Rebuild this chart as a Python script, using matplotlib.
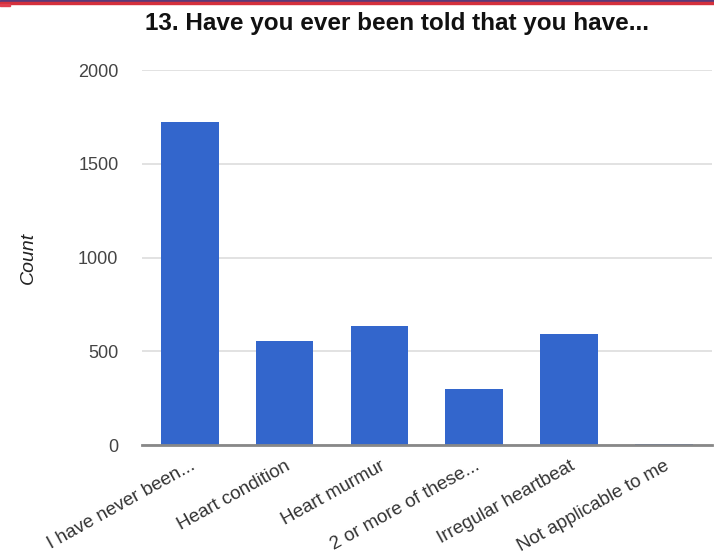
import matplotlib.pyplot as plt
from matplotlib.patches import Rectangle

categories = ["I have never been...", "Heart condition", "Heart murmur",
              "2 or more of these...", "Irregular heartbeat", "Not applicable to me"]
counts = [1723, 555, 635, 299, 592, 6]
y_ticks = [0, 500, 1000, 1500, 2000]

plt.rcParams['font.family'] = ['Liberation Sans', 'DejaVu Sans']

fig = plt.figure(figsize=(7.14, 5.58), dpi=100)
ax = fig.add_axes([0.199, 0.2025, 0.798, 0.672])

x = range(len(categories))
ax.bar(x, counts, width=0.61, color='#3366cc', zorder=3)

ax.set_xlim(-0.5, len(categories) - 0.5)
ax.set_ylim(0, 2000)
ax.set_yticks(y_ticks)
ax.set_yticklabels([str(t) for t in y_ticks], fontsize=13, color='#444444')
ax.set_xticks(list(x))
ax.set_xticklabels(categories, rotation=29, ha='right', rotation_mode='anchor',
                   fontsize=13.5, color='#333333')
ax.tick_params(axis='y', length=0, pad=17)
ax.tick_params(axis='x', length=0, pad=9)

ax.grid(axis='y', color='#dddddd', linewidth=1.2, zorder=0)
for side in ['top', 'right', 'left']:
    ax.spines[side].set_visible(False)
ax.spines['bottom'].set_color('#888888')
ax.spines['bottom'].set_linewidth(2)
ax.spines['bottom'].set_zorder(4)

ax.set_ylabel('Count', fontsize=14, style='italic', color='#222222', labelpad=30)
fig.text(0.556, 0.957, '13. Have you ever been told that you have...',
         ha='center', va='center', fontsize=17.5, fontweight='bold', color='#111111')

# page header stripe
fig.patches.append(Rectangle((0, 1 - 1.5 / 558), 1, 1.5 / 558, transform=fig.transFigure,
                             color='#5a3a7a', zorder=5))
fig.patches.append(Rectangle((0, 1 - 4 / 558), 1, 2.5 / 558, transform=fig.transFigure,
                             color='#d4303c', zorder=5))
fig.patches.append(Rectangle((0, 1 - 5.5 / 558), 10 / 714, 1.5 / 558, transform=fig.transFigure,
                             color='#e04050', zorder=5))

fig.savefig('out.png', dpi=100)
